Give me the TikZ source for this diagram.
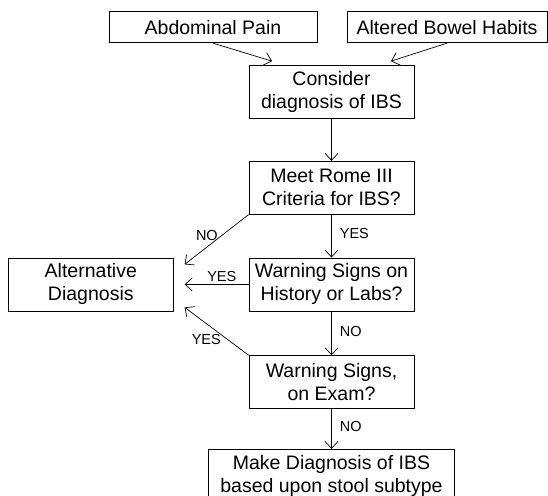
\documentclass[tikz,border=0pt]{standalone}
\usepackage{fontspec}
\setmainfont{Liberation Sans}
\usetikzlibrary{positioning,arrows.meta}
\begin{document}
\begin{tikzpicture}[line width=0.7pt, every node/.style={font=\fontsize{19.5}{23}\selectfont}, box/.style={draw, align=center, inner sep=0pt, minimum height=53pt, minimum width=165pt}, lbl/.style={font=\fontsize{14.5}{16}\selectfont, inner sep=1pt}, >={Straight Barb[length=7pt,width=13pt]}]
\useasboundingbox (-331.5pt,92pt) rectangle (216.5pt,-403pt);
\node[box] (cons) at (0,0) {Consider\\diagnosis of IBS};
\node[box, minimum height=31pt, minimum width=208pt, above=22pt of cons, xshift=-118.5pt] (pain) {Abdominal Pain};
\node[box, minimum height=31pt, minimum width=200pt, above=22pt of cons, xshift=115.5pt] (bowel) {Altered Bowel Habits};
\node[box, below=42pt of cons] (rome) {Meet Rome III\\Criteria for IBS?};
\node[box, below=43pt of rome] (hist) {Warning Signs on\\History or Labs?};
\node[box, below=44pt of hist] (exam) {Warning Signs,\\on Exam?};
\node[box, minimum width=246pt, below=40pt of exam] (make) {Make Diagnosis of IBS\\based upon stool subtype};
\node[box, left=75pt of hist] (altdx) {Alternative\\Diagnosis};
\coordinate (tipA) at ([xshift=-59.5pt,yshift=4pt]cons.north);
\coordinate (tipB) at ([xshift=59.5pt,yshift=4pt]cons.north);
\coordinate (tipC) at ([xshift=11pt,yshift=20pt]altdx.east);
\coordinate (tipD) at ([xshift=11pt]altdx.east);
\coordinate (tipE) at ([xshift=11pt,yshift=-23pt]altdx.east);
\draw[->] (pain.south) -- (tipA); \draw[->] (bowel.south) -- (tipB); \draw[->] (cons) -- (rome);
\draw[->] (rome) -- node[lbl, right=7pt, pos=0.45] (yes1) {YES} (hist);
\draw[->] (hist) -- node[lbl, right=7pt, pos=0.45] (no2) {NO} (exam);
\draw[->] (exam) -- node[lbl, right=7pt, pos=0.45] (no3) {NO} (make);
\draw[->] (rome.south west) -- node[lbl, left=2pt, pos=0.43] (no1) {NO} (tipC);
\draw[->] (hist.west) -- node[lbl, above=1pt, pos=0.42] (yes2) {YES} (tipD);
\draw[->] (exam.north west) -- node[lbl, left=6pt, pos=0.32] (yes3) {YES} (tipE);
\end{tikzpicture}
\end{document}
